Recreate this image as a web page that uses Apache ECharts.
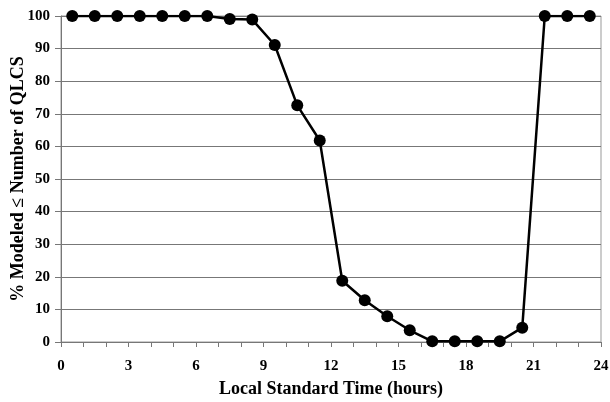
<!DOCTYPE html>
<html><head><meta charset="utf-8">
<script src="https://cdn.jsdelivr.net/npm/echarts@6/dist/echarts.min.js"></script>
<style>html,body{margin:0;padding:0;background:#fff}#c{width:610px;height:402px}</style>
</head><body><div id="c"></div>
<script>
const hours = [0.5,1.5,2.5,3.5,4.5,5.5,6.5,7.5,8.5,9.5,10.5,11.5,12.5,13.5,14.5,15.5,16.5,17.5,18.5,19.5,20.5,21.5,22.5,23.5];
const pct = [100,100,100,100,100,100,100,99.1,98.9,91.1,72.6,61.8,18.8,12.8,7.9,3.6,0.2,0.2,0.2,0.2,4.4,100,100,100];
const xTitle = 'Local Standard Time (hours)';
const yTitle = '% Modeled \u2264 Number of QLCS';
const font = '"Liberation Serif", "Times New Roman", serif';
const chart = echarts.init(document.getElementById('c'));
chart.setOption({
  animation:false,
  grid:{left:61,right:9,top:16,bottom:60,show:true,borderColor:'#999',borderWidth:1,outerBoundsMode:'none',containLabel:false},
  xAxis:{type:'value',min:0,max:24,interval:3,
    name:xTitle,nameLocation:'middle',nameGap:38,nameMoveOverlap:false,
    nameTextStyle:{fontFamily:font,fontWeight:'bold',fontSize:18,color:'#000'},
    axisLine:{lineStyle:{color:'#777',width:1}},
    axisTick:{show:true,length:5,lineStyle:{color:'#777'}},
    minorTick:{show:true,splitNumber:3,length:5,lineStyle:{color:'#777'}},
    axisLabel:{fontFamily:font,fontWeight:'bold',fontSize:15,color:'#000',margin:17},
    splitLine:{show:false}},
  yAxis:{type:'value',min:0,max:100,interval:10,
    name:yTitle,nameLocation:'middle',nameGap:34,nameMoveOverlap:false,
    nameTextStyle:{fontFamily:font,fontWeight:'bold',fontSize:18,color:'#000'},
    axisLine:{show:true,lineStyle:{color:'#777',width:1}},
    axisTick:{show:true,length:6,lineStyle:{color:'#777'}},
    axisLabel:{fontFamily:font,fontWeight:'bold',fontSize:15,color:'#000',margin:11},
    splitLine:{show:true,lineStyle:{color:'#777',width:1}}},
  series:[{type:'line',data:hours.map((h,i)=>[h,pct[i]]),
    symbol:'circle',symbolSize:12,
    lineStyle:{color:'#000',width:2.5},
    itemStyle:{color:'#000'}}]
});
</script></body></html>
